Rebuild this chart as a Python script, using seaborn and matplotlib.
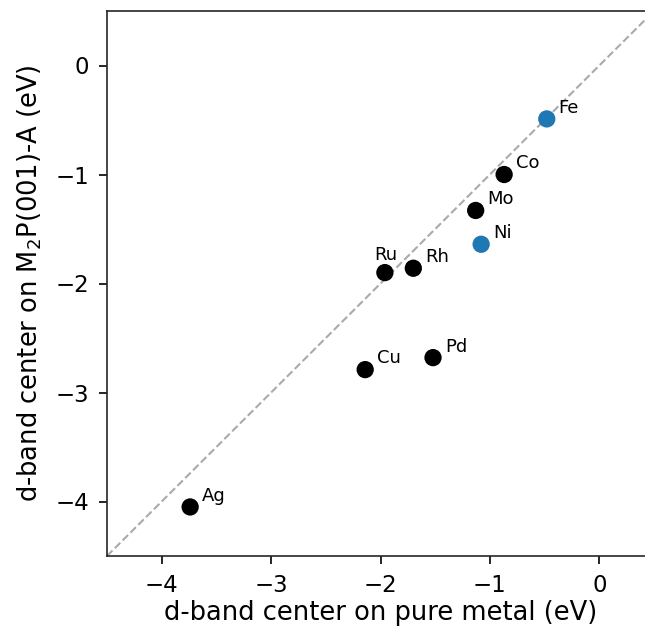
import pandas as pd
import seaborn as sns
import matplotlib.pyplot as plt

# d-band centers (eV)
metals = ['Fe', 'Co', 'Mo', 'Ni', 'Rh', 'Ru', 'Pd', 'Cu', 'Ag']
pure_metal = [-0.48, -0.87, -1.13, -1.08, -1.70, -1.96, -1.52, -2.14, -3.74]
m2p_surface = [-0.49, -1.00, -1.33, -1.64, -1.86, -1.90, -2.68, -2.79, -4.05]
group = ['blue', 'black', 'black', 'blue', 'black', 'black', 'black', 'black', 'black']

df = pd.DataFrame({'metal': metals, 'x': pure_metal, 'y': m2p_surface, 'group': group})

sns.set_style('ticks')
plt.rcParams['font.family'] = ['DejaVu Sans']
plt.rcParams['text.color'] = 'black'
plt.rcParams['axes.labelcolor'] = 'black'
plt.rcParams['xtick.color'] = 'black'
plt.rcParams['ytick.color'] = 'black'

fig = plt.figure(figsize=(6.45, 6.38), dpi=100)
ax = fig.add_axes([107 / 645, 82 / 638, 547 / 645, 545 / 638])

# parity line
ax.plot([-4.5, 0.5], [-4.5, 0.5], ls='--', color='#aaaaaa', lw=1.5, zorder=1)

sns.scatterplot(data=df, x='x', y='y', hue='group',
                palette={'blue': '#1f77b4', 'black': 'black'},
                s=155, edgecolor='none', legend=False, zorder=3, ax=ax)

for m, xv, yv in zip(metals, pure_metal, m2p_surface):
    if m == 'Ru':
        # Ru sits next to Rh, so its label goes on top
        ax.annotate(m, (xv, yv), xytext=(1, 13), textcoords='offset points',
                    ha='center', va='center', fontsize=13)
    else:
        ax.annotate(m, (xv, yv), xytext=(8.5, 8), textcoords='offset points',
                    ha='left', va='center', fontsize=13)

ax.set_xlim(-4.5, 0.5)
ax.set_ylim(-4.5, 0.5)
ax.set_xticks([-4, -3, -2, -1, 0])
ax.set_yticks([-4, -3, -2, -1, 0])
ax.tick_params(labelsize=16.5, length=6, width=1.2, pad=7)
for sp in ax.spines.values():
    sp.set_linewidth(1.2)

ax.set_xlabel('d-band center on pure metal (eV)', fontsize=18.5, labelpad=2)
ax.set_ylabel('d-band center on M$_2$P(001)-A (eV)', fontsize=18.5, labelpad=8)

fig.savefig('out.png', dpi=100)
